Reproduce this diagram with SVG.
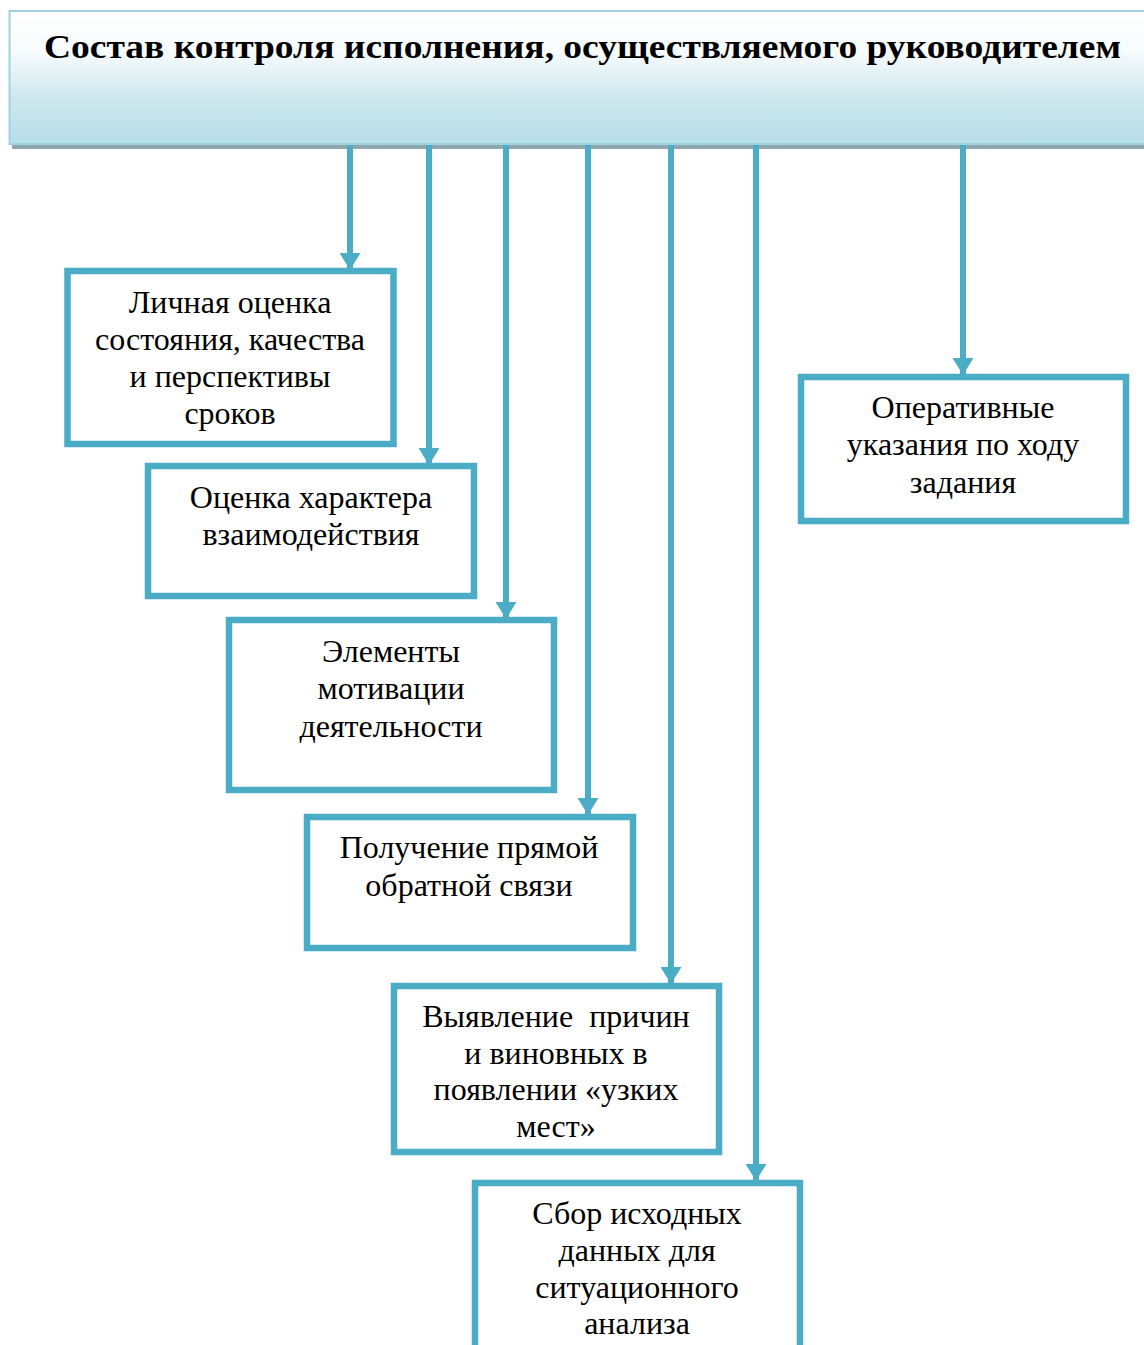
<svg xmlns="http://www.w3.org/2000/svg" width="1144" height="1345" viewBox="0 0 1144 1345">
<style>
.box{fill:#fff;stroke:#4BACC6;stroke-width:6.5}
.t{font-family:"Liberation Serif","Times New Roman",serif;font-size:32px;fill:#000;text-anchor:middle}
.h{font-family:"Liberation Serif","Times New Roman",serif;font-size:34px;font-weight:bold;fill:#000}
.c{stroke:#4BACC6;stroke-width:6;fill:none;marker-end:url(#ah)}
</style>
<defs>
<linearGradient id="hg" x1="0" y1="0" x2="0" y2="1">
<stop offset="0" stop-color="#ffffff"/>
<stop offset="0.3" stop-color="#f7fbfc"/>
<stop offset="0.65" stop-color="#cfe8ee"/>
<stop offset="1" stop-color="#b6dde6"/>
</linearGradient>
<marker id="ah" markerUnits="userSpaceOnUse" markerWidth="17" markerHeight="21" refX="17" refY="10.5" orient="auto" viewBox="0 0 17 21">
<path d="M0,0 L17,10.5 L0,21 Z" fill="#4BACC6"/>
</marker>
</defs>
<g id="header">
<rect x="12" y="143" width="1140" height="6" fill="#8fa8b0"/>
<rect x="9.5" y="11" width="1140" height="133" fill="url(#hg)" stroke="#9ed3df" stroke-width="2"/>
<text class="h" x="44" y="58" textLength="1077" lengthAdjust="spacingAndGlyphs">Состав контроля исполнения, осуществляемого руководителем</text>
</g>
<g id="connectors">
<path class="c" d="M350,145 V270"/>
<path class="c" d="M429,145 V465"/>
<path class="c" d="M506,145 V619"/>
<path class="c" d="M588,145 V815"/>
<path class="c" d="M671,145 V984"/>
<path class="c" d="M756,145 V1181"/>
<path class="c" d="M963,145 V375"/>
</g>
<g id="n1">
<rect class="box" x="67.5" y="271" width="326" height="173"/>
<text class="t" x="230" y="313">Личная оценка</text>
<text class="t" x="230" y="350">состояния, качества</text>
<text class="t" x="230" y="387">и перспективы</text>
<text class="t" x="230" y="424">сроков</text>
</g>
<g id="n2">
<rect class="box" x="148" y="466" width="326" height="130"/>
<text class="t" x="311" y="508">Оценка характера</text>
<text class="t" x="311" y="545">взаимодействия</text>
</g>
<g id="n3">
<rect class="box" x="229" y="620" width="325" height="170"/>
<text class="t" x="391" y="662">Элементы</text>
<text class="t" x="391" y="699">мотивации</text>
<text class="t" x="391" y="737">деятельности</text>
</g>
<g id="n4">
<rect class="box" x="307" y="817" width="326" height="131"/>
<text class="t" x="469" y="858">Получение прямой</text>
<text class="t" x="469" y="896">обратной связи</text>
</g>
<g id="n5">
<rect class="box" x="394" y="986" width="325" height="166"/>
<text class="t" x="556" y="1027" xml:space="preserve">Выявление  причин</text>
<text class="t" x="556" y="1064">и виновных в</text>
<text class="t" x="556" y="1100">появлении «узких</text>
<text class="t" x="556" y="1137">мест»</text>
</g>
<g id="n6">
<rect class="box" x="475" y="1183" width="325" height="180"/>
<text class="t" x="637" y="1224">Сбор исходных</text>
<text class="t" x="637" y="1261">данных для</text>
<text class="t" x="637" y="1298">ситуационного</text>
<text class="t" x="637" y="1334">анализа</text>
</g>
<g id="n7">
<rect class="box" x="801" y="377" width="325" height="144"/>
<text class="t" x="963" y="418">Оперативные</text>
<text class="t" x="963" y="455">указания по ходу</text>
<text class="t" x="963" y="493">задания</text>
</g>
</svg>
